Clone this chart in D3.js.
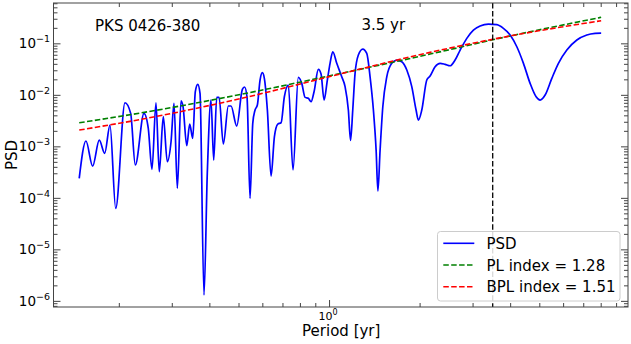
<!DOCTYPE html>
<html>
<head>
<meta charset="utf-8">
<script src="https://cdn.jsdelivr.net/npm/d3@7"></script>
<style>
  body { margin: 0; background: #fff; }
  svg { display: block; font-family: "DejaVu Sans", sans-serif; }
</style>
</head>
<body>
<svg id="chart" width="631" height="344"></svg>
<script>
// periodogram (period in yr, PSD)
const periods = [
  0.1477, 0.1555, 0.1637, 0.1722, 0.1795, 0.1869, 0.1953, 0.2097, 0.2190, 0.2269,
  0.2425, 0.2506, 0.2578, 0.2658, 0.2726, 0.2811, 0.2899, 0.2983, 0.3052, 0.3130,
  0.3220, 0.3270, 0.3364, 0.3441, 0.3521, 0.3592, 0.3659, 0.3724, 0.3839, 0.3937,
  0.4050, 0.4135, 0.4232, 0.4308, 0.4452, 0.4625, 0.4722, 0.4932, 0.5149, 0.5236,
  0.5337, 0.5461, 0.5576, 0.5675, 0.5776, 0.5896, 0.6001, 0.6093, 0.6236, 0.6415,
  0.6580, 0.6753, 0.6926, 0.7102, 0.7322, 0.7589, 0.7902, 0.8114, 0.8323, 0.8535,
  0.8712, 0.8915, 0.9213, 0.9406, 0.9625, 0.9870, 1.0077, 1.0287, 1.0607, 1.1020,
  1.1304, 1.1592, 1.1789, 1.1989, 1.2202, 1.2514, 1.2944, 1.3347, 1.3689, 1.4042,
  1.4336, 1.4535, 1.4780, 1.5090, 1.5555, 1.6160, 1.6793, 1.7451, 1.8135, 1.8836,
  1.9467, 1.9815, 2.0337, 2.1129, 2.1673, 2.2518, 2.3394, 2.4310, 2.5260, 2.6242,
  2.7279, 2.8703, 3.0196, 3.1783, 3.3874, 3.6127, 3.7992, 3.9996, 4.2099, 4.4287,
  4.6606, 4.8800, 5.0317, 5.2277, 5.5030, 5.7886, 6.1732, 6.6654, 7.1945, 7.6659,
  8.0278
];
const psd = [
  2.39e-4, 1.27e-3, 4.14e-4, 1.32e-3, 7.31e-4, 2.59e-3, 6.25e-5, 7.03e-3, 4.37e-3, 4.34e-4,
  4.37e-3, 2.24e-3, 3.57e-4, 7.03e-3, 3.21e-4, 3.76e-3, 5.02e-4, 1.23e-3, 6.84e-3, 1.53e-4,
  7.68e-3, 5.88e-3, 1.03e-3, 2.71e-3, 1.43e-3, 1.15e-2, 1.60e-2, 1.07e-2, 1.30e-6, 2.99e-4,
  7.93e-3, 5.42e-4, 8.93e-3, 8.93e-3, 1.11e-3, 6.07e-3, 6.07e-3, 2.48e-3, 1.28e-2, 1.42e-2,
  9.06e-3, 9.77e-5, 2.80e-3, 5.07e-3, 6.34e-3, 1.94e-2, 2.69e-2, 2.09e-2, 5.07e-3, 2.65e-4,
  1.53e-3, 2.71e-3, 2.87e-3, 9.18e-3, 1.55e-2, 3.47e-4, 2.19e-2, 1.67e-2, 8.93e-3, 8.55e-3,
  7.35e-3, 1.15e-2, 3.13e-2, 2.54e-2, 7.93e-3, 1.94e-2, 4.09e-2, 6.87e-2, 4.09e-2, 2.24e-2,
  1.44e-2, 5.07e-3, 1.30e-3, 5.07e-3, 2.61e-2, 5.93e-2, 7.75e-2, 6.40e-2, 2.24e-2, 5.07e-3,
  8.47e-4, 1.36e-4, 8.47e-4, 5.88e-3, 2.24e-2, 4.09e-2, 4.74e-2, 4.40e-2, 3.03e-2, 1.44e-2,
  5.07e-3, 3.24e-3, 5.07e-3, 1.94e-2, 2.32e-2, 3.51e-2, 4.09e-2, 3.91e-2, 3.67e-2, 4.74e-2,
  7.41e-2, 0.125, 0.181, 0.217, 0.237, 0.230, 0.195, 0.145, 8.59e-2, 4.09e-2,
  1.67e-2, 9.18e-3, 7.93e-3, 9.91e-3, 2.09e-2, 4.09e-2, 7.41e-2, 0.116, 0.145, 0.156,
  0.158
];

// fitted models, sampled off the figure
const modelPeriods = [0.1477, 0.2638, 0.5256, 1.088, 2.167, 4.061, 8.028];
const plPsd = [2.87e-3, 4.96e-3, 1.06e-2, 2.59e-2, 6.19e-2, 0.1416, 0.320];
const bplPsd = [2.07e-3, 3.76e-3, 8.87e-3, 2.54e-2, 6.68e-2, 0.1416, 0.275];

const qpoPeriod = 3.5;
const sourceName = "PKS 0426-380";
const qpoLabel = "3.5 yr";
const legendLabels = ["PSD", "PL index = 1.28", "BPL index = 1.51"];
const legendColors = ["#0000ff", "#008000", "#ff0000"];

const plotL = 53.5, plotR = 628, plotT = 3, plotB = 307;

const svg = d3.select("#chart");

const x = d3.scaleLog().domain([0.1213, 9.86]).range([plotL, plotR]);
const y = d3.scaleLog().domain([7.6e-7, 0.607]).range([plotB, plotT]);

const isMajor = (v) => Math.abs(Math.log10(v) - Math.round(Math.log10(v))) < 1e-6;

svg.append("clipPath").attr("id", "clip")
  .append("rect")
  .attr("x", plotL).attr("y", plotT)
  .attr("width", plotR - plotL).attr("height", plotB - plotT);

const plot = svg.append("g").attr("clip-path", "url(#clip)");

const line = d3.line()
  .x((d) => x(d[0]))
  .y((d) => y(d[1]))
  .curve(d3.curveMonotoneX);

plot.append("path")
  .attr("d", line(periods.map((p, i) => [p, psd[i]])))
  .attr("fill", "none")
  .attr("stroke", "#0000ff")
  .attr("stroke-width", 1.7)
  .attr("stroke-linejoin", "round");

plot.append("path")
  .attr("d", line(modelPeriods.map((p, i) => [p, plPsd[i]])))
  .attr("fill", "none")
  .attr("stroke", "#008000")
  .attr("stroke-width", 1.6)
  .attr("stroke-dasharray", "5.5,2.4");

plot.append("path")
  .attr("d", line(modelPeriods.map((p, i) => [p, bplPsd[i]])))
  .attr("fill", "none")
  .attr("stroke", "#ff0000")
  .attr("stroke-width", 1.6)
  .attr("stroke-dasharray", "5.5,2.4");

plot.append("line")
  .attr("x1", x(qpoPeriod)).attr("x2", x(qpoPeriod))
  .attr("y1", plotT).attr("y2", plotB)
  .attr("stroke", "#000")
  .attr("stroke-width", 1.3)
  .attr("stroke-dasharray", "5.5,2.4");

// ticks, pointing inward on all four sides
const xTicks = x.ticks();
const yTicks = y.ticks();
const tickStyle = (g) => {
  g.select(".domain").remove();
  g.selectAll("line").attr("stroke", "#444").attr("stroke-width", 1);
};
const addAxis = (axis, tx, ty, vals, size) =>
  svg.append("g")
    .attr("transform", `translate(${tx},${ty})`)
    .call(axis.tickValues(vals).tickSize(-size).tickFormat(""))
    .call(tickStyle);

addAxis(d3.axisBottom(x), 0, plotB, xTicks.filter(isMajor), 7);
addAxis(d3.axisBottom(x), 0, plotB, xTicks.filter((v) => !isMajor(v)), 4);
addAxis(d3.axisTop(x), 0, plotT, xTicks.filter(isMajor), 7);
addAxis(d3.axisTop(x), 0, plotT, xTicks.filter((v) => !isMajor(v)), 4);
addAxis(d3.axisLeft(y), plotL, 0, yTicks.filter(isMajor), 7);
addAxis(d3.axisLeft(y), plotL, 0, yTicks.filter((v) => !isMajor(v)), 4);
addAxis(d3.axisRight(y), plotR, 0, yTicks.filter(isMajor), 7);
addAxis(d3.axisRight(y), plotR, 0, yTicks.filter((v) => !isMajor(v)), 4);

svg.append("rect")
  .attr("x", plotL).attr("y", plotT)
  .attr("width", plotR - plotL).attr("height", plotB - plotT)
  .attr("fill", "none")
  .attr("stroke", "#444")
  .attr("stroke-width", 1);

// tick labels as 10^n
yTicks.filter(isMajor).forEach((v) => {
  const t = svg.append("text")
    .attr("x", plotL - 3.5)
    .attr("y", y(v) + 5)
    .attr("text-anchor", "end")
    .attr("font-size", 13.5)
    .attr("fill", "#000");
  t.append("tspan").text("10");
  t.append("tspan")
    .attr("dy", -6)
    .attr("font-size", 9.5)
    .text("\u2212" + Math.round(-Math.log10(v)));
});

xTicks.filter(isMajor).forEach((v) => {
  const t = svg.append("text")
    .attr("x", x(v) - 1)
    .attr("y", 320)
    .attr("text-anchor", "middle")
    .attr("font-size", 11)
    .attr("fill", "#000");
  t.append("tspan").text("10");
  t.append("tspan")
    .attr("dy", -5)
    .attr("font-size", 8)
    .text(Math.round(Math.log10(v)));
});

svg.append("text")
  .attr("x", (plotL + plotR) / 2 + 0.5)
  .attr("y", 336)
  .attr("text-anchor", "middle")
  .attr("font-size", 15)
  .text("Period [yr]");

svg.append("text")
  .attr("transform", `translate(16.5,${(plotT + plotB) / 2}) rotate(-90)`)
  .attr("text-anchor", "middle")
  .attr("font-size", 15)
  .text("PSD");

svg.append("text")
  .attr("x", 95)
  .attr("y", 30.5)
  .attr("font-size", 15)
  .text(sourceName);

svg.append("text")
  .attr("x", 361.5)
  .attr("y", 30)
  .attr("font-size", 15)
  .text(qpoLabel);

// legend
const legend = svg.append("g");
legend.append("rect")
  .attr("x", 437.5).attr("y", 231.5)
  .attr("width", 182.5).attr("height", 69.5)
  .attr("rx", 3)
  .attr("fill", "#fff")
  .attr("fill-opacity", 0.85)
  .attr("stroke", "#ccc");

legendLabels.forEach((label, i) => {
  const ly = 243.3 + i * 21.7;
  legend.append("line")
    .attr("x1", 443.3).attr("x2", 474.3)
    .attr("y1", ly).attr("y2", ly)
    .attr("stroke", legendColors[i])
    .attr("stroke-width", 1.6)
    .attr("stroke-dasharray", i === 0 ? null : "5.5,2.4");
  legend.append("text")
    .attr("x", 486.5)
    .attr("y", ly + 5.5)
    .attr("font-size", 15)
    .text(label);
});
</script>
</body>
</html>
